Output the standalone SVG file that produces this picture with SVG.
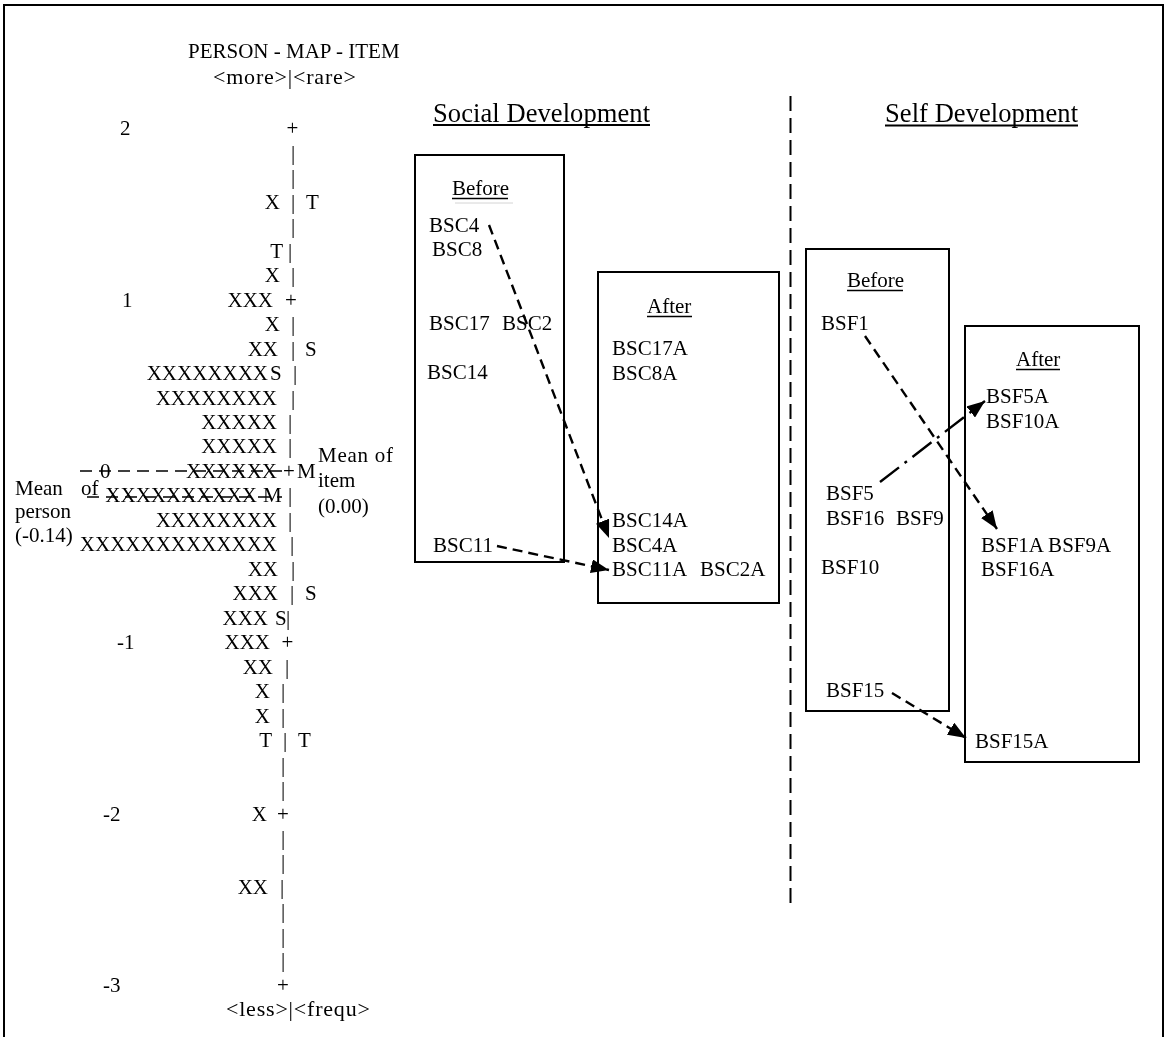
<svg xmlns="http://www.w3.org/2000/svg" width="1166" height="1037" viewBox="0 0 1166 1037">
  <style>
    .t { font-family: "Liberation Serif", "Times New Roman", serif; font-size: 21px; fill: #000; }
    .h { font-size: 26.5px; }
    .big { font-size: 22px; letter-spacing: 0.8px; }
    .e { text-anchor: end; }
    .m { text-anchor: middle; }
    .lay { filter: url(#flat); }
    .box { fill: none; stroke: #000; stroke-width: 2; }
    .ul { stroke: #000; stroke-width: 1.3; }
    .ulh { stroke: #000; stroke-width: 2; }
    .mean { stroke: #000; stroke-width: 1.5; stroke-dasharray: 12 7; fill: none; }
    .arr { stroke: #000; stroke-width: 2.4; stroke-dasharray: 10 6; fill: none; marker-end: url(#head); }
    .arr-dd { stroke: #000; stroke-width: 2.4; stroke-dasharray: 24 7 3 7; fill: none; marker-end: url(#head); }
    .divider { stroke: #000; stroke-width: 2; stroke-dasharray: 15 7; }
  </style>
  <defs>
    <marker id="head" markerUnits="userSpaceOnUse" markerWidth="19" markerHeight="14" refX="18" refY="7" orient="auto">
      <path d="M0,0 L18,7 L0,14 z" fill="#000"/>
    </marker>
    <!-- pass-through filter: renders text groups offscreen (grayscale anti-aliasing) -->
    <filter id="flat" x="-5%" y="-5%" width="110%" height="110%">
      <feOffset dx="0" dy="0"/>
    </filter>
  </defs>

  <rect width="1166" height="1037" fill="#fff"/>
  <!-- page frame (open at the bottom) -->
  <path d="M4,1037 V5 H1163 V1037" fill="none" stroke="#000" stroke-width="2"/>

  <!-- Person-item map -->
  <g id="person-map" class="t lay">
    <text x="188" y="58">PERSON - MAP - ITEM</text>
    <text class="big" x="213" y="84">&lt;more&gt;|&lt;rare&gt;</text>

    <text x="120" y="135.3">2</text><text class="m" x="292.5" y="135.3">+</text>
    <text class="m" x="293" y="159.8">|</text>
    <text class="m" x="293" y="184.2">|</text>
    <text class="e" x="280" y="208.7">X</text><text class="m" x="293" y="208.7">|</text><text x="306" y="208.7">T</text>
    <text class="m" x="293" y="233.2">|</text>
    <text class="e" x="283" y="257.7">T</text><text class="m" x="290" y="257.7">|</text>
    <text class="e" x="280" y="282.1">X</text><text class="m" x="293" y="282.1">|</text>
    <text x="122" y="306.6">1</text><text class="e" x="273" y="306.6">XXX</text><text class="m" x="291" y="306.6">+</text>
    <text class="e" x="280" y="331.1">X</text><text class="m" x="293" y="331.1">|</text>
    <text class="e" x="278" y="355.5">XX</text><text class="m" x="293" y="355.5">|</text><text x="305" y="355.5">S</text>
    <text class="e" x="268" y="380">XXXXXXXX</text><text x="270" y="380">S</text><text class="m" x="295" y="380">|</text>
    <text class="e" x="277" y="404.5">XXXXXXXX</text><text class="m" x="293" y="404.5">|</text>
    <text class="e" x="277" y="428.9">XXXXX</text><text class="m" x="290" y="428.9">|</text>
    <text class="e" x="277" y="453.4">XXXXX</text><text class="m" x="290" y="453.4">|</text>
    <text x="100" y="477.9">0</text><text class="e" x="277" y="477.9">XXXXXX</text><text class="m" x="289" y="477.9">+</text><text x="297" y="477.9">M</text>
    <text class="e" x="257" y="502.4">XXXXXXXXXX</text><text x="263" y="502.4">M</text><text class="m" x="290" y="502.4">|</text>
    <text class="e" x="277" y="526.8">XXXXXXXX</text><text class="m" x="290" y="526.8">|</text>
    <text class="e" x="277" y="551.3">XXXXXXXXXXXXX</text><text class="m" x="292" y="551.3">|</text>
    <text class="e" x="278" y="575.8">XX</text><text class="m" x="293" y="575.8">|</text>
    <text class="e" x="278" y="600.2">XXX</text><text class="m" x="292" y="600.2">|</text><text x="305" y="600.2">S</text>
    <text class="e" x="268" y="624.7">XXX</text><text x="275" y="624.7">S</text><text class="m" x="288" y="624.7">|</text>
    <text x="117" y="649.2">-1</text><text class="e" x="270" y="649.2">XXX</text><text class="m" x="287.5" y="649.2">+</text>
    <text class="e" x="273" y="673.6">XX</text><text class="m" x="287" y="673.6">|</text>
    <text class="e" x="270" y="698.1">X</text><text class="m" x="283" y="698.1">|</text>
    <text class="e" x="270" y="722.6">X</text><text class="m" x="283" y="722.6">|</text>
    <text class="e" x="272" y="747.1">T</text><text class="m" x="285" y="747.1">|</text><text x="298" y="747.1">T</text>
    <text class="m" x="283" y="771.5">|</text>
    <text class="m" x="283" y="796">|</text>
    <text x="103" y="820.5">-2</text><text class="e" x="267" y="820.5">X</text><text class="m" x="283" y="820.5">+</text>
    <text class="m" x="283" y="844.9">|</text>
    <text class="m" x="283" y="869.4">|</text>
    <text class="e" x="268" y="893.9">XX</text><text class="m" x="282" y="893.9">|</text>
    <text class="m" x="283" y="918.3">|</text>
    <text class="m" x="283" y="942.8">|</text>
    <text class="m" x="283" y="967.3">|</text>
    <text x="103" y="991.7">-3</text><text class="m" x="283" y="991.7">+</text>
    <text class="big" x="226" y="1016.2">&lt;less&gt;|&lt;frequ&gt;</text>
  </g>

  <!-- mean markers -->
  <g id="mean-item" class="t lay">
    <line class="mean" x1="80" y1="471" x2="287" y2="471"/>
    <text x="318" y="462" textLength="75">Mean of</text>
    <text x="318" y="487">item</text>
    <text x="318" y="513">(0.00)</text>
  </g>
  <g id="mean-person" class="t lay">
    <line class="mean" x1="87" y1="497" x2="282" y2="497"/>
    <text x="15" y="495">Mean</text>
    <text x="81" y="495">of</text>
    <text x="15" y="518">person</text>
    <text x="15" y="542">(-0.14)</text>
  </g>

  <!-- section headings -->
  <g id="heading-social" class="t h lay">
    <text x="433" y="121.5" textLength="217">Social Development</text>
    <line class="ulh" x1="433" y1="125" x2="650" y2="125"/>
  </g>
  <g id="heading-self" class="t h lay">
    <text x="885" y="121.5" textLength="193">Self Development</text>
    <line class="ulh" x1="885" y1="125.5" x2="1078" y2="125.5"/>
  </g>

  <line id="divider" class="divider" x1="790.5" y1="96" x2="790.5" y2="908"/>

  <!-- Social development: before -->
  <g id="social-before" class="t lay">
    <rect class="box" x="415" y="155" width="149" height="407"/>
    <text x="452" y="195">Before</text>
    <line class="ul" x1="452" y1="198.5" x2="508" y2="198.5"/>
    <line x1="455" y1="203" x2="513" y2="203" stroke="#d4d4d4" stroke-width="1"/>
    <text x="429" y="232">BSC4</text>
    <text x="432" y="256">BSC8</text>
    <text x="429" y="330">BSC17</text>
    <text x="502" y="330">BSC2</text>
    <text x="427" y="379">BSC14</text>
    <text x="433" y="552">BSC11</text>
  </g>

  <!-- Social development: after -->
  <g id="social-after" class="t lay">
    <rect class="box" x="598" y="272" width="181" height="331"/>
    <text x="647" y="313">After</text>
    <line class="ul" x1="647" y1="316.5" x2="692" y2="316.5"/>
    <text x="612" y="355">BSC17A</text>
    <text x="612" y="380">BSC8A</text>
    <text x="612" y="527">BSC14A</text>
    <text x="612" y="552">BSC4A</text>
    <text x="612" y="576">BSC11A</text>
    <text x="700" y="576">BSC2A</text>
  </g>

  <!-- Self development: before -->
  <g id="self-before" class="t lay">
    <rect class="box" x="806" y="249" width="143" height="462"/>
    <text x="847" y="287">Before</text>
    <line class="ul" x1="847" y1="290.5" x2="903" y2="290.5"/>
    <text x="821" y="330">BSF1</text>
    <text x="826" y="500">BSF5</text>
    <text x="826" y="525">BSF16</text>
    <text x="896" y="525">BSF9</text>
    <text x="821" y="574">BSF10</text>
    <text x="826" y="697">BSF15</text>
  </g>

  <!-- Self development: after -->
  <g id="self-after" class="t lay">
    <rect class="box" x="965" y="326" width="174" height="436"/>
    <text x="1016" y="366">After</text>
    <line class="ul" x1="1016" y1="369.5" x2="1060" y2="369.5"/>
    <text x="986" y="403">BSF5A</text>
    <text x="986" y="428">BSF10A</text>
    <text x="981" y="552">BSF1A BSF9A</text>
    <text x="981" y="576">BSF16A</text>
    <text x="975" y="748">BSF15A</text>
  </g>

  <!-- before → after movements -->
  <g id="connectors">
    <line class="arr" x1="489" y1="225" x2="609" y2="538"/>
    <line class="arr" x1="497" y1="546" x2="609" y2="570"/>
    <line class="arr" x1="865" y1="336" x2="997" y2="529"/>
    <line class="arr-dd" x1="880" y1="482" x2="985" y2="401"/>
    <line class="arr" x1="892" y1="693" x2="966" y2="738"/>
  </g>
</svg>
